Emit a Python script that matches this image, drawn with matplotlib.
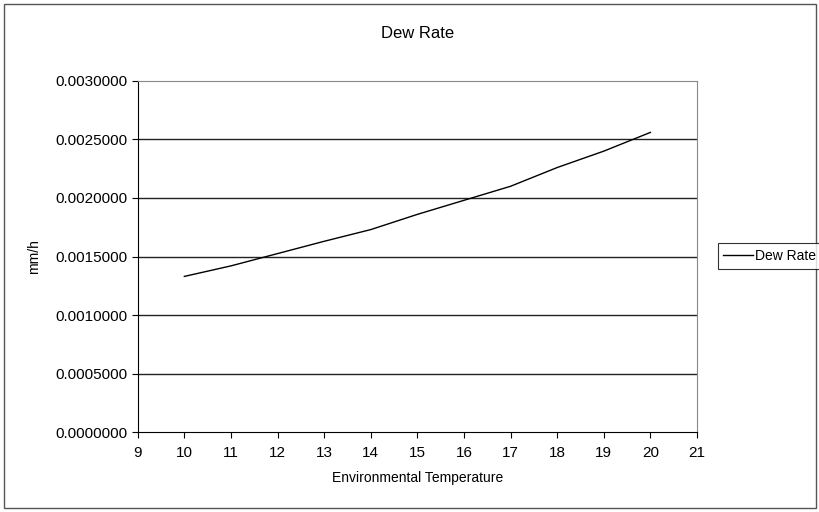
import matplotlib
matplotlib.use("Agg")
import matplotlib.pyplot as plt
from matplotlib.ticker import FormatStrFormatter
from matplotlib.patches import Rectangle

plt.rcParams['font.family'] = ['Liberation Sans', 'DejaVu Sans']

# environmental temperature vs dew rate (mm/h)
temps = [10, 11, 12, 13, 14, 15, 16, 17, 18, 19, 20]
dew_rate = [0.00133, 0.00142, 0.001525, 0.00163, 0.00173, 0.00186,
            0.00198, 0.00210, 0.00226, 0.00240, 0.00256]
x_ticks = list(range(9, 22))
y_ticks = [0.0, 0.0005, 0.001, 0.0015, 0.002, 0.0025, 0.003]

fig = plt.figure(figsize=(8.2, 5.12), dpi=100)
ax = fig.add_axes([0.168, 0.156, 0.682, 0.686])

ax.plot(temps, dew_rate, color="black", linewidth=1.0, label="Dew Rate")

ax.set_xlim(9, 21)
ax.set_ylim(0, 0.003)
ax.set_xticks(x_ticks)
ax.set_yticks(y_ticks)
ax.yaxis.set_major_formatter(FormatStrFormatter("%.7f"))
for y in y_ticks[1:-1]:
    ax.axhline(y, color="#222222", linewidth=1.0, zorder=0)

ax.tick_params(axis="both", labelsize=11, direction="out", length=4, width=0.8)
ax.tick_params(axis="x", pad=6)
ax.spines["left"].set_color("black")
ax.spines["bottom"].set_color("black")
ax.spines["top"].set_color("#888888")
ax.spines["right"].set_color("#888888")

ax.set_title("Dew Rate", fontsize=12, pad=31)
ax.set_xlabel("Environmental Temperature", fontsize=10, labelpad=8)
ax.set_ylabel("mm/h", fontsize=10, labelpad=10)

leg = fig.legend(loc="center left", bbox_to_anchor=(0.867, 0.50), fontsize=10,
                 frameon=True, fancybox=False, edgecolor="black",
                 handlelength=2.1, handletextpad=0.2, borderpad=0.4)
leg.get_frame().set_linewidth(0.8)

# outer chart border
fig.patches.append(Rectangle((0.005, 0.008), 0.99, 0.985, transform=fig.transFigure,
                             fill=False, edgecolor="#555555", linewidth=1.0))

fig.savefig("out.png", dpi=100)
